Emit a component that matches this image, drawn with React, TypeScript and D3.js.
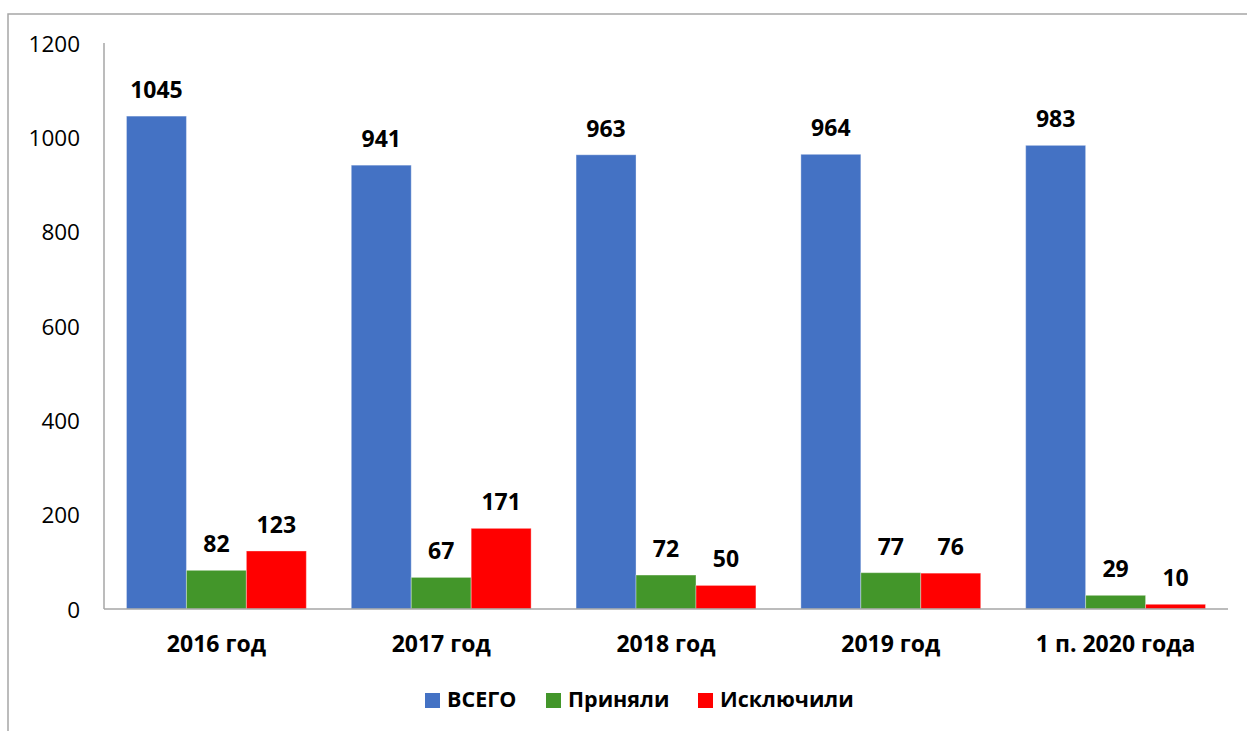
import React from "react";
import * as d3 from "d3";

const categories = ["2016 год", "2017 год", "2018 год", "2019 год", "1 п. 2020 года"];
const seriesNames = ["ВСЕГО", "Приняли", "Исключили"];
const vsego = [1045, 941, 963, 964, 983];
const prinyali = [82, 67, 72, 77, 29];
const isklyuchili = [123, 171, 50, 76, 10];
const yTicks = [0, 200, 400, 600, 800, 1000, 1200];

const colors = ["#4472C4", "#43962A", "#FF0000"];
const FONT = "'Open Sans', 'Noto Sans', sans-serif";

const W = 1247;
const H = 731;
const plot = { left: 104, right: 1228, top: 43, bottom: 609 };
const legendX = [425, 546, 698];

export default function App() {
  const series = [vsego, prinyali, isklyuchili];
  const x0 = d3
    .scaleBand<string>()
    .domain(categories)
    .range([plot.left, plot.right])
    .paddingInner(0.2)
    .paddingOuter(0.1);
  const x1 = d3
    .scaleBand<number>()
    .domain([0, 1, 2])
    .range([0, x0.bandwidth()])
    .padding(0);
  const y = d3.scaleLinear().domain([0, 1200]).range([plot.bottom, plot.top]);

  return (
    <svg
      width={W}
      height={H}
      style={{ position: "fixed", left: 0, top: 0, background: "#fff" }}
      fontFamily={FONT}
    >
      <rect x={0} y={0} width={W} height={H} fill="#fff" />
      <rect x={8} y={14} width={W + 20} height={H + 20} fill="none" stroke="#A6A6A6" strokeWidth={1.5} />

      {yTicks.map((t) => (
        <text
          key={t}
          x={80}
          y={y(t)}
          textAnchor="end"
          dominantBaseline="central"
          fontSize={22.5}
          fill="#000"
        >
          {t}
        </text>
      ))}

      {categories.map((c, ci) => (
        <g key={c} transform={`translate(${x0(c)},0)`}>
          {series.map((s, si) => {
            const v = s[ci];
            const bx = x1(si)!;
            const bw = x1.bandwidth();
            return (
              <g key={si}>
                <rect
                  x={bx}
                  y={y(v)}
                  width={bw}
                  height={y(0) - y(v)}
                  fill={colors[si]}
                  stroke="rgba(255,255,255,0.35)"
                  strokeWidth={1}
                />
                <text
                  x={bx + bw / 2}
                  y={y(v) - 18}
                  textAnchor="middle"
                  fontSize={23}
                  fontWeight="bold"
                  fill="#000"
                >
                  {v}
                </text>
              </g>
            );
          })}
          <text
            x={x0.bandwidth() / 2}
            y={652}
            textAnchor="middle"
            fontSize={23}
            fontWeight="bold"
            fill="#000"
          >
            {c}
          </text>
        </g>
      ))}

      <line x1={plot.left} x2={plot.left} y1={plot.top} y2={plot.bottom} stroke="#A6A6A6" strokeWidth={1.5} />
      <line x1={plot.left} x2={plot.right} y1={plot.bottom} y2={plot.bottom} stroke="#A6A6A6" strokeWidth={1.5} />

      {seriesNames.map((n, i) => (
        <g key={n}>
          <rect x={legendX[i]} y={693} width={15} height={15} fill={colors[i]} />
          <text x={legendX[i] + 22} y={707} fontSize={21.5} fontWeight="bold" fill="#000">
            {n}
          </text>
        </g>
      ))}
    </svg>
  );
}
